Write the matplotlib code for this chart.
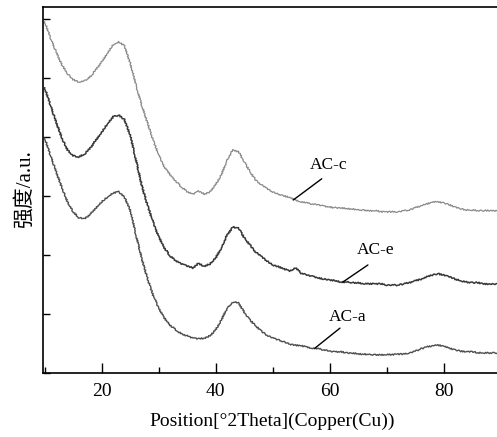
import matplotlib
matplotlib.use("Agg")
import matplotlib.pyplot as plt
from matplotlib.ticker import MultipleLocator, NullFormatter

plt.rcParams['font.family'] = ['Liberation Serif', 'Noto Sans CJK SC']

# 2θ 位置 (°)
two_theta = list(range(10, 91))

# XRD 强度 (a.u.)
ac_c = [5.95, 5.68, 5.44, 5.22, 5.07, 4.97, 4.93, 4.95, 5.02, 5.14,
        5.27, 5.42, 5.56, 5.61, 5.54, 5.25, 4.88, 4.54, 4.25, 3.95,
        3.69, 3.49, 3.36, 3.25, 3.15, 3.07, 3.03, 3.08, 3.03, 3.07,
        3.19, 3.36, 3.61, 3.78, 3.75, 3.58, 3.41, 3.27, 3.19, 3.12,
        3.07, 3.03, 3.00, 2.97, 2.93, 2.90, 2.88, 2.86, 2.85, 2.83,
        2.81, 2.80, 2.80, 2.78, 2.78, 2.76, 2.76, 2.75, 2.75, 2.73,
        2.73, 2.73, 2.73, 2.75, 2.76, 2.80, 2.83, 2.86, 2.90, 2.90,
        2.88, 2.85, 2.81, 2.78, 2.76, 2.76, 2.75, 2.75, 2.75, 2.75,
        2.75]
ac_e = [4.83, 4.54, 4.25, 3.98, 3.78, 3.68, 3.66, 3.71, 3.81, 3.95,
        4.08, 4.22, 4.34, 4.37, 4.29, 4.03, 3.61, 3.19, 2.85, 2.56,
        2.31, 2.12, 1.98, 1.90, 1.85, 1.81, 1.78, 1.86, 1.80, 1.85,
        1.95, 2.12, 2.34, 2.47, 2.46, 2.29, 2.17, 2.05, 1.97, 1.90,
        1.83, 1.80, 1.76, 1.73, 1.78, 1.69, 1.66, 1.64, 1.61, 1.59,
        1.58, 1.56, 1.54, 1.54, 1.53, 1.53, 1.51, 1.51, 1.51, 1.51,
        1.49, 1.49, 1.49, 1.51, 1.53, 1.56, 1.59, 1.63, 1.66, 1.68,
        1.66, 1.63, 1.59, 1.56, 1.54, 1.53, 1.53, 1.51, 1.51, 1.51,
        1.51]
ac_a = [3.98, 3.69, 3.41, 3.14, 2.90, 2.73, 2.63, 2.61, 2.69, 2.80,
        2.90, 2.98, 3.05, 3.07, 2.98, 2.76, 2.34, 1.95, 1.61, 1.32,
        1.10, 0.93, 0.81, 0.73, 0.66, 0.63, 0.59, 0.58, 0.59, 0.63,
        0.73, 0.90, 1.10, 1.20, 1.19, 1.03, 0.90, 0.80, 0.71, 0.64,
        0.59, 0.56, 0.53, 0.49, 0.47, 0.46, 0.44, 0.42, 0.41, 0.39,
        0.37, 0.36, 0.36, 0.34, 0.34, 0.32, 0.32, 0.31, 0.31, 0.31,
        0.31, 0.31, 0.32, 0.32, 0.34, 0.37, 0.41, 0.44, 0.46, 0.47,
        0.46, 0.42, 0.39, 0.37, 0.36, 0.36, 0.34, 0.34, 0.34, 0.34,
        0.34]

fig = plt.figure(figsize=(4.97, 4.37), dpi=100)
ax = fig.add_axes([0.0865, 0.1465, 0.921, 0.8375])

line_c, = ax.plot(two_theta, ac_c, color='#8a8a8a', lw=0.9)
line_e, = ax.plot(two_theta, ac_e, color='#383838', lw=1.1)
line_a, = ax.plot(two_theta, ac_a, color='#4e4e4e', lw=1.0)
# 轻微抖动的线条, 模拟衍射谱的噪声外观
for ln in (line_c, line_e, line_a):
    ln.set_sketch_params(0.7, 2.5, 2.0)

# 样品标注: 引线 + 文字
ax.annotate('', xy=(53.6, 2.93), xytext=(58.6, 3.29),
            arrowprops=dict(arrowstyle='-', color='black', lw=1.0,
                            shrinkA=0, shrinkB=0))
ax.annotate('', xy=(62.3, 1.54), xytext=(66.7, 1.83),
            arrowprops=dict(arrowstyle='-', color='black', lw=1.0,
                            shrinkA=0, shrinkB=0))
ax.annotate('', xy=(57.4, 0.42), xytext=(61.8, 0.76),
            arrowprops=dict(arrowstyle='-', color='black', lw=1.0,
                            shrinkA=0, shrinkB=0))
ax.text(56.5, 3.53, 'AC-c', fontsize=12.5, ha='left', va='center')
ax.text(64.8, 2.08, 'AC-e', fontsize=12.5, ha='left', va='center')
ax.text(59.9, 0.95, 'AC-a', fontsize=12.5, ha='left', va='center')

ax.set_xlim(9.7, 90)
ax.set_ylim(0, 6.2)
ax.xaxis.set_major_locator(MultipleLocator(20))
ax.xaxis.set_minor_locator(MultipleLocator(10))
ax.yaxis.set_major_locator(MultipleLocator(1))
ax.yaxis.set_major_formatter(NullFormatter())
ax.tick_params(axis='both', which='both', direction='in', width=1.0)
ax.tick_params(axis='x', which='major', length=7, labelsize=14, pad=7)
ax.tick_params(axis='x', which='minor', length=4)
ax.tick_params(axis='y', which='major', length=5)
ax.spines['right'].set_visible(False)
for s in ('left', 'bottom', 'top'):
    ax.spines[s].set_linewidth(1.2)

ax.set_xlabel('Position[°2Theta](Copper(Cu))', fontsize=14, labelpad=9)
fig.text(25 / 497, 1 - 189 / 437, '强度/a.u.', fontsize=15,
         rotation=90, ha='center', va='center')

fig.savefig('out.png', dpi=100)
